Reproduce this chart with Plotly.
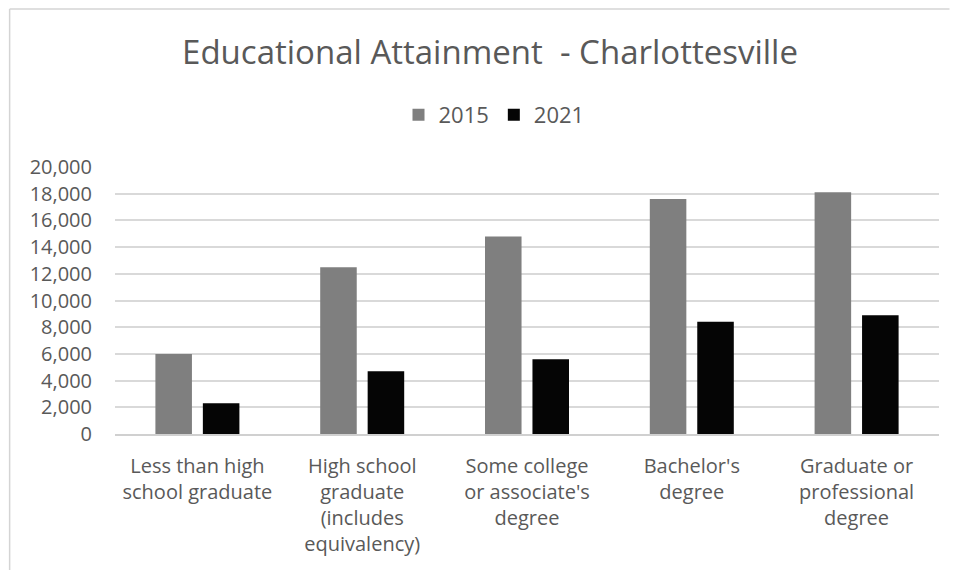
import plotly.graph_objects as go

categories = [
    "Less than high<br>school graduate",
    "High school<br>graduate<br>(includes<br>equivalency)",
    "Some college<br>or associate's<br>degree",
    "Bachelor's<br>degree",
    "Graduate or<br>professional<br>degree",
]
values_2015 = [6000, 12500, 14800, 17600, 18100]
values_2021 = [2300, 4700, 5600, 8400, 8900]
y_ticks = list(range(0, 20001, 2000))
y_tick_labels = [f"{v:,}" for v in y_ticks]

# page body has an 8px margin on every side, so the figure is drawn from (8, 8)
# and kept small enough that the page does not overflow the window
OFF = 8
W, H = 958 - 2 * OFF, 579 - 2 * OFF
PX_L, PX_R, PX_T, PX_B = 114.5, 939.5, 167, 434   # plot area in window pixels
L = PX_L - OFF
T = PX_T - OFF
R = (OFF + W) - PX_R
B = (OFF + H) - PX_B
FONT = "Open Sans"
TEXT = "#595959"

fig = go.Figure()
fig.add_trace(go.Bar(name="2015", x=categories, y=values_2015,
                     marker=dict(color="#7f7f7f", line=dict(width=0))))
fig.add_trace(go.Bar(name="2021", x=categories, y=values_2021,
                     marker=dict(color="#050505", line=dict(width=0))))

pw = W - L - R
ph = H - T - B
def px_x(x):
    return (x - PX_L) / pw
def px_y(y):
    return 1 - (y - PX_T) / ph

border = dict(color="#d4d4d4", width=1.5)
# left and top edges of the chart frame
fig.add_shape(type="line", xref="paper", yref="paper",
              x0=px_x(9), x1=px_x(9), y0=px_y(570), y1=px_y(9), line=border, layer="below")
fig.add_shape(type="line", xref="paper", yref="paper",
              x0=px_x(9), x1=px_x(950), y0=px_y(9), y1=px_y(9), line=border, layer="below")

fig.update_layout(
    width=W, height=H,
    margin=dict(l=L, r=R, t=T, b=B, pad=0),
    paper_bgcolor="white", plot_bgcolor="white",
    font=dict(family=FONT, color=TEXT, size=20),
    title=dict(text="Educational Attainment  - Charlottesville",
               x=(490 - OFF) / W, xanchor="center",
               y=1 - (52 - OFF) / H, yanchor="middle",
               font=dict(family=FONT, size=33, color=TEXT)),
    barmode="group", bargap=0.424, bargroupgap=0.23,
    showlegend=True,
    legend=dict(orientation="h", xref="container", yref="container",
                x=(494 - OFF) / W, xanchor="center",
                y=1 - (115 - OFF) / H, yanchor="middle",
                font=dict(family=FONT, size=22, color=TEXT),
                itemwidth=30, traceorder="normal"),
    xaxis=dict(showgrid=False, showline=True, linecolor="#d0d0d0", linewidth=1.5,
               ticks="", tickfont=dict(family=FONT, size=20, color=TEXT),
               ticklabelstandoff=13, fixedrange=True),
    yaxis=dict(range=[0, 20000], tickvals=y_ticks, ticktext=y_tick_labels,
               showgrid=True, gridcolor="#d9d9d9", gridwidth=1.5,
               zeroline=False, showline=False, ticks="",
               tickfont=dict(family=FONT, size=20, color=TEXT),
               ticklabelstandoff=22, fixedrange=True),
)

fig.write_html("out.html")
